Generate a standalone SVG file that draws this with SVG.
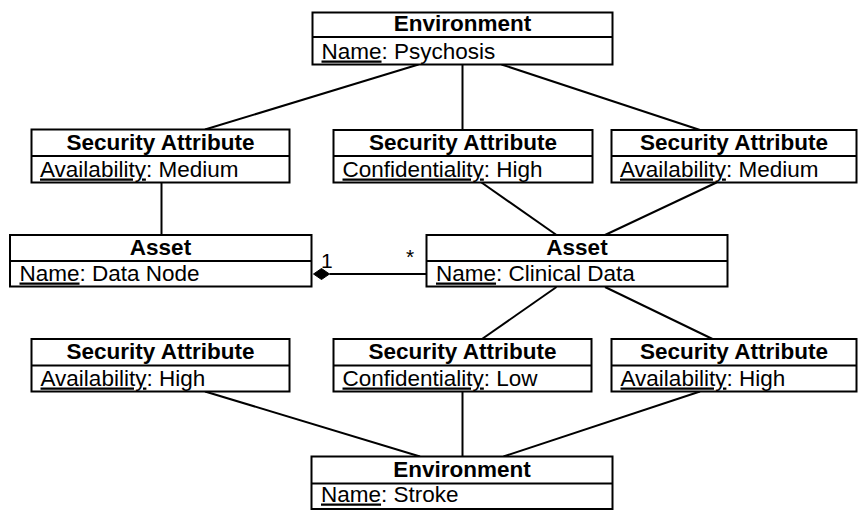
<svg xmlns="http://www.w3.org/2000/svg" width="858" height="510" viewBox="0 0 858 510">
  <style>
    .box { fill: #ffffff; stroke: #000000; stroke-width: 2; }
    .div { stroke: #000000; stroke-width: 2; }
    .edge { stroke: #000000; stroke-width: 2; fill: none; }
    text { font-family: "Liberation Sans", Arial, Helvetica, sans-serif; font-size: 22.5px; fill: #000000; }
    .hdr { font-weight: bold; text-anchor: middle; }
    .u { text-decoration: underline; }
    .mult { font-size: 21px; }
  </style>

  <!-- connectors -->
  <g id="connectors">
    <line class="edge" x1="418.5" y1="64.5" x2="205" y2="129.5"/>
    <line class="edge" x1="462.5" y1="64.5" x2="462.5" y2="130"/>
    <line class="edge" x1="501.5" y1="64.5" x2="700" y2="130"/>
    <line class="edge" x1="161.5" y1="182.5" x2="161.5" y2="235"/>
    <line class="edge" x1="481.5" y1="182.5" x2="556.5" y2="235"/>
    <line class="edge" x1="716.5" y1="182.5" x2="605" y2="235"/>
    <line class="edge" x1="556.5" y1="287" x2="482" y2="339"/>
    <line class="edge" x1="605" y1="287" x2="712.5" y2="339"/>
    <line class="edge" x1="205" y1="391.5" x2="420" y2="456.5"/>
    <line class="edge" x1="462.5" y1="391.5" x2="462.5" y2="456.5"/>
    <line class="edge" x1="700" y1="391.5" x2="503.5" y2="456.5"/>
    <!-- composition: Data Node (1) owns Clinical Data (*) -->
    <line class="edge" x1="329.5" y1="274" x2="426.5" y2="274"/>
    <polygon points="313.5,274 321.5,268.5 329.5,274 321.5,279.5" fill="#000000" stroke="#000000" stroke-width="1"/>
    <text class="mult" x="321" y="268">1</text>
    <text class="mult" x="406" y="264">*</text>
  </g>

  <g id="env-psychosis">
    <rect class="box" x="312.5" y="12.5" width="300" height="52"/>
    <line class="div" x1="312.5" y1="37" x2="612.5" y2="37"/>
    <text class="hdr" x="462.5" y="31">Environment</text>
    <text x="321.5" y="58.5"><tspan class="u">Name</tspan>: Psychosis</text>
  </g>

  <g id="sa-avail-medium-1">
    <rect class="box" x="31.5" y="129.5" width="258" height="53"/>
    <line class="div" x1="31.5" y1="156" x2="289.5" y2="156"/>
    <text class="hdr" x="160.5" y="150">Security Attribute</text>
    <text x="40" y="176.5"><tspan class="u">Availability</tspan>: Medium</text>
  </g>

  <g id="sa-conf-high">
    <rect class="box" x="333.5" y="130" width="259" height="52.5"/>
    <line class="div" x1="333.5" y1="156" x2="592.5" y2="156"/>
    <text class="hdr" x="463" y="150">Security Attribute</text>
    <text x="342.5" y="176.5"><tspan class="u">Confidentiality</tspan>: High</text>
  </g>

  <g id="sa-avail-medium-2">
    <rect class="box" x="611.5" y="130" width="245" height="52.5"/>
    <line class="div" x1="611.5" y1="156" x2="856.5" y2="156"/>
    <text class="hdr" x="734" y="150">Security Attribute</text>
    <text x="620" y="176.5"><tspan class="u">Availability</tspan>: Medium</text>
  </g>

  <g id="asset-data-node">
    <rect class="box" x="10" y="235" width="301.5" height="51.5"/>
    <line class="div" x1="10" y1="261" x2="311.5" y2="261"/>
    <text class="hdr" x="160.5" y="254.5">Asset</text>
    <text x="19.5" y="280.5"><tspan class="u">Name</tspan>: Data Node</text>
  </g>

  <g id="asset-clinical-data">
    <rect class="box" x="426.5" y="235" width="301" height="51.5"/>
    <line class="div" x1="426.5" y1="261" x2="727.5" y2="261"/>
    <text class="hdr" x="577" y="254.5">Asset</text>
    <text x="436" y="280.5"><tspan class="u">Name</tspan>: Clinical Data</text>
  </g>

  <g id="sa-avail-high-1">
    <rect class="box" x="31.5" y="339" width="258" height="52.5"/>
    <line class="div" x1="31.5" y1="365.5" x2="289.5" y2="365.5"/>
    <text class="hdr" x="160.5" y="359">Security Attribute</text>
    <text x="40.5" y="385.5"><tspan class="u">Availability</tspan>: High</text>
  </g>

  <g id="sa-conf-low">
    <rect class="box" x="333.5" y="339" width="258" height="52.5"/>
    <line class="div" x1="333.5" y1="365.5" x2="591.5" y2="365.5"/>
    <text class="hdr" x="462.5" y="359">Security Attribute</text>
    <text x="342.5" y="385.5"><tspan class="u">Confidentiality</tspan>: Low</text>
  </g>

  <g id="sa-avail-high-2">
    <rect class="box" x="611.5" y="339" width="245" height="52.5"/>
    <line class="div" x1="611.5" y1="365.5" x2="856.5" y2="365.5"/>
    <text class="hdr" x="734" y="359">Security Attribute</text>
    <text x="620.5" y="385.5"><tspan class="u">Availability</tspan>: High</text>
  </g>

  <g id="env-stroke">
    <rect class="box" x="311.5" y="456.5" width="301" height="52.5"/>
    <line class="div" x1="311.5" y1="483.5" x2="612.5" y2="483.5"/>
    <text class="hdr" x="462" y="476.5">Environment</text>
    <text x="321" y="501.5"><tspan class="u">Name</tspan>: Stroke</text>
  </g>
</svg>
